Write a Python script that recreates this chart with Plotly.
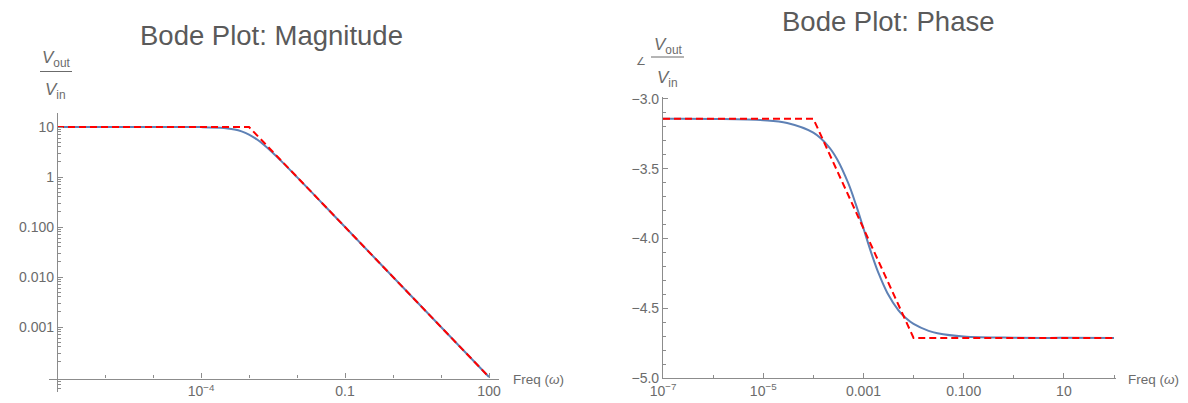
import plotly.graph_objects as go

# ---------------- data ----------------
freq_mag = [1e-7, 1e-6, 1e-5, 1e-4, 3e-4, 5e-4, 7e-4, 1e-3, 1.5e-3, 2e-3, 3e-3,
            5e-3, 1e-2, 3e-2, 0.1, 1, 10, 100]
mag = [10, 10, 10, 9.95, 9.578, 8.944, 8.192, 7.071, 5.547, 4.472, 3.162,
       1.961, 0.995, 0.3332, 0.1, 0.01, 0.001, 0.0001]
asym_mag_freq = [1e-7, 1e-3, 100]
asym_mag = [10, 10, 0.0001]

freq_ph = [1e-7, 1e-6, 1e-5, 3e-5, 1e-4, 2e-4, 3e-4, 5e-4, 7e-4, 1e-3, 1.5e-3,
           2e-3, 3e-3, 5e-3, 7e-3, 1e-2, 2e-2, 3e-2, 0.1, 1, 10, 100]
phase = [-3.1417, -3.1426, -3.1516, -3.1716, -3.2413, -3.3390, -3.4331, -3.6052,
         -3.7523, -3.9270, -4.1244, -4.2487, -4.3906, -4.5150, -4.5705, -4.6127,
         -4.6624, -4.6791, -4.7024, -4.7114, -4.7123, -4.7124]
asym_ph_freq = [1e-7, 1e-4, 1e-2, 100]
asym_ph = [-3.1416, -3.1416, -4.7124, -4.7124]

mag_xticks = [1e-4, 0.1, 100]
mag_xtext = ["10<sup>\u22124</sup>", "0.1", "100"]
mag_xminor = [1e-7, 1e-6, 1e-5, 1e-3, 1e-2, 1, 10]
mag_yticks = [10, 1, 0.1, 0.01, 0.001]
mag_ytext = ["10", "1", "0.100", "0.010", "0.001"]

ph_xticks = [1e-7, 1e-5, 1e-3, 0.1, 10]
ph_xtext = ["10<sup>\u22127</sup>", "10<sup>\u22125</sup>", "0.001", "0.100", "10"]
ph_xminor = [1e-6, 1e-4, 1e-2, 1, 100]
ph_yticks = [-3.0, -3.5, -4.0, -4.5, -5.0]
ph_ytext = ["\u22123.0", "\u22123.5", "\u22124.0", "\u22124.5", "\u22125.0"]

# ---------------- figure ----------------
W, H = 1188, 403
BLUE = "#5E81B5"
AX = "#8c8c8c"
TXT = "#6b6b6b"
FONT = "Liberation Sans, Arial, sans-serif"

def px(xp):
    return xp / W

def py(yp):
    return 1 - yp / H

mag_minor_y = []
for e in range(-5, 2):
    for m in range(2, 10):
        v = m * 10.0 ** e
        if 10 ** -4.3 < v < 10 ** 1.28:
            mag_minor_y.append(v)
ph_minor_y = [round(-3.0 - 0.1 * i, 2) for i in range(21)]

fig = go.Figure()
fig.add_trace(go.Scatter(x=freq_mag, y=mag, mode="lines", line=dict(color=BLUE, width=2, shape="spline"),
                         xaxis="x", yaxis="y", showlegend=False, hoverinfo="skip"))
fig.add_trace(go.Scatter(x=asym_mag_freq, y=asym_mag, mode="lines", line=dict(color="#FF0000", width=2, dash="7px,4px"),
                         xaxis="x", yaxis="y", showlegend=False, hoverinfo="skip"))
fig.add_trace(go.Scatter(x=freq_ph, y=phase, mode="lines", line=dict(color=BLUE, width=2, shape="spline"),
                         xaxis="x2", yaxis="y2", showlegend=False, hoverinfo="skip"))
fig.add_trace(go.Scatter(x=asym_ph_freq, y=asym_ph, mode="lines", line=dict(color="#FF0000", width=2, dash="7px,4px"),
                         xaxis="x2", yaxis="y2", showlegend=False, hoverinfo="skip"))

common = dict(showgrid=False, zeroline=False, showline=True, linecolor=AX, linewidth=1.2,
              ticks="inside", ticklen=5, tickwidth=1, tickcolor=AX, automargin=False,
              tickfont=dict(family=FONT, size=14, color=TXT), tickmode="array")

fig.update_layout(
    width=W, height=H, margin=dict(l=0, r=0, t=0, b=0, autoexpand=False),
    paper_bgcolor="white", plot_bgcolor="white",
    xaxis=dict(type="log", range=[-7.167, 2.208], domain=[px(49), px(499)],
               anchor="free", position=py(378.5),
               tickvals=mag_xticks, ticktext=mag_xtext,
               minor=dict(tickmode="array", tickvals=mag_xminor, ticks="inside", ticklen=3, tickcolor=AX),
               **common),
    yaxis=dict(type="log", range=[-4.3, 1.28], domain=[py(392), py(113)],
               anchor="free", position=px(57),
               tickvals=mag_yticks, ticktext=mag_ytext,
               minor=dict(tickmode="array", tickvals=mag_minor_y, ticks="inside", ticklen=2.5, tickcolor=AX),
               **common),
    xaxis2=dict(type="log", range=[-7, 2.04], domain=[px(663), px(1116)],
                anchor="y2",
                tickvals=ph_xticks, ticktext=ph_xtext,
                minor=dict(tickmode="array", tickvals=ph_xminor, ticks="inside", ticklen=3, tickcolor=AX),
                **common),
    yaxis2=dict(range=[-5, -2.9857], domain=[py(378), py(97)],
                anchor="x2",
                tickvals=ph_yticks, ticktext=ph_ytext,
                minor=dict(tickmode="array", tickvals=ph_minor_y, ticks="inside", ticklen=3, tickcolor=AX),
                **common),
)

def ann(text, x, y, size, xanchor="center", color=TXT):
    fig.add_annotation(text=text, x=px(x), y=py(y), xref="paper", yref="paper",
                       xanchor=xanchor, yanchor="middle", showarrow=False,
                       font=dict(family=FONT, size=size, color=color))

ann("Bode Plot: Magnitude", 271, 36, 27.5, color="#5a5a5a")
ann("Bode Plot: Phase", 888, 21, 27.5, color="#5a5a5a")

ann("Freq (<i>\u03c9</i>)", 511, 379, 13.5, xanchor="left")
ann("Freq (<i>\u03c9</i>)", 1126, 379, 13.5, xanchor="left")

# y-axis labels (fractions)
ann("<i>V</i><sub>out</sub>", 56, 59, 17)
ann("<i>V</i><sub>in</sub>", 55, 91, 17)
fig.add_shape(type="line", xref="paper", yref="paper", x0=px(40), x1=px(72), y0=py(71.5), y1=py(71.5),
              line=dict(color=TXT, width=1))
ann("\u2220", 641, 61, 11)
ann("<i>V</i><sub>out</sub>", 668, 46, 17)
ann("<i>V</i><sub>in</sub>", 667, 79, 17)
fig.add_shape(type="line", xref="paper", yref="paper", x0=px(651), x1=px(684), y0=py(57), y1=py(57),
              line=dict(color=TXT, width=1))

fig.write_html("out.html", config={"displayModeBar": False},
               post_script="document.body.style.margin='0';document.body.style.overflow='hidden';")
